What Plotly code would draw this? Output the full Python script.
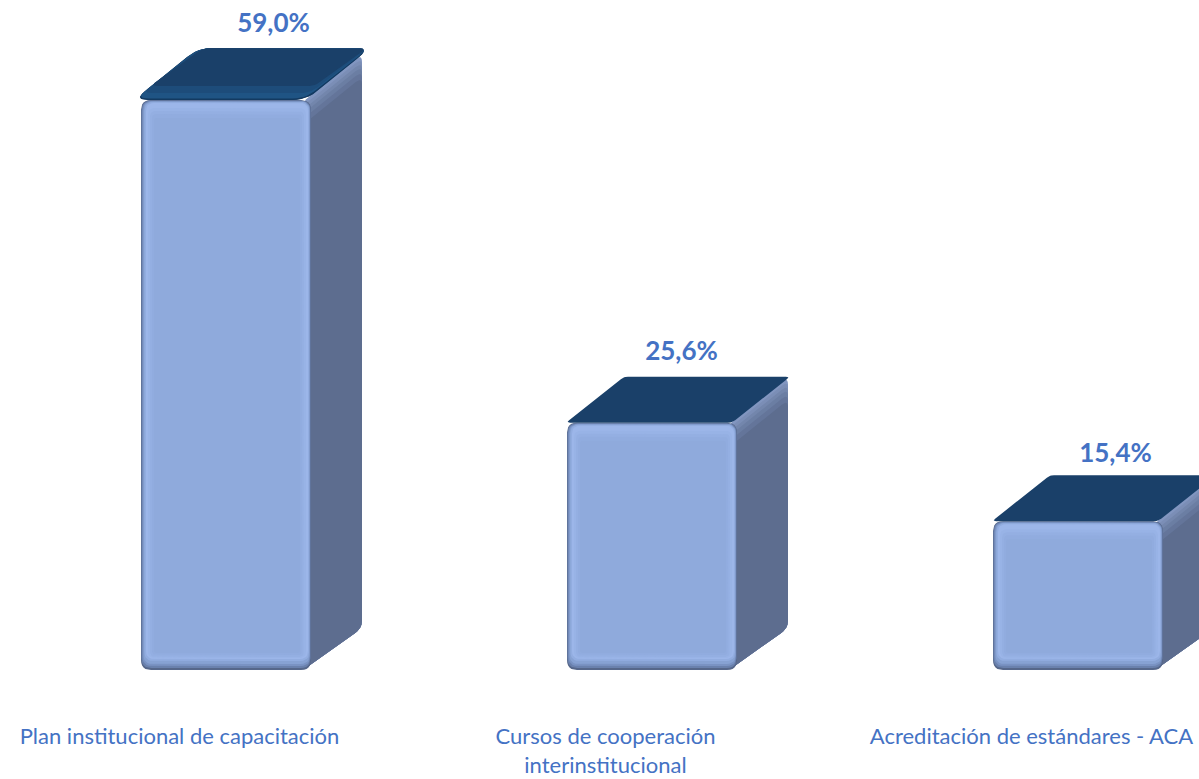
import plotly.graph_objects as go

categories = ["Plan institucional de capacitación", "Cursos de cooperación<br>interinstitucional", "Acreditación de estándares - ACA"]
values = [59.0, 25.6, 15.4]

W, H = 1199, 779
PLOT_H = 672
PX_X = 426.0
PX_Y = 9.66
TICK0 = 179.5
FLOOR_PAD = 2
BAR_W = 170
BAR_OFF = 46.5

# extrusion look, per bar
TOP_DY = [52, 46, 46]
TOP_DX = [64, 58, 58]
TOP_TIP = [7, 1, 1]
TOP_R = [14, 4, 4]
LABEL_DX = [94, 76, 84]
LABEL_DY = [75, 69, 66]


def X(px):
    return (px - TICK0) / PX_X


def Y(py):
    return (PLOT_H - FLOOR_PAD - py) / PX_Y


def rounded(pts, r, n=6):
    """Rounded polygon in pixel offsets."""
    out = []
    m = len(pts)
    for i in range(m):
        p0, p1, p2 = pts[i - 1], pts[i], pts[(i + 1) % m]
        ra = r[i] if isinstance(r, (list, tuple)) else r

        def toward(a, b, d):
            dx, dy = b[0] - a[0], b[1] - a[1]
            ln = (dx * dx + dy * dy) ** 0.5 or 1
            d = min(d, ln / 2)
            return a[0] + dx / ln * d, a[1] + dy / ln * d
        a = toward(p1, p0, ra)
        b = toward(p1, p2, ra)
        for k in range(n + 1):
            t = k / n
            out.append(((1 - t) ** 2 * a[0] + 2 * t * (1 - t) * p1[0] + t * t * b[0],
                        (1 - t) ** 2 * a[1] + 2 * t * (1 - t) * p1[1] + t * t * b[1]))
    out.append(out[0])
    return out


def add_layer(fig, polys, color):
    xs, ys = [], []
    for poly in polys:
        xs += [X(p[0]) for p in poly] + [None]
        ys += [Y(p[1]) for p in poly] + [None]
    fig.add_trace(go.Scatter(x=xs, y=ys, mode="lines", fill="toself", fillcolor=color,
                             line=dict(width=0, color=color), hoverinfo="skip", showlegend=False))


def frame(i):
    centre = TICK0 + PX_X * i + BAR_OFF
    left = centre - BAR_W / 2
    right = centre + BAR_W / 2
    base = PLOT_H - FLOOR_PAD
    top = base - values[i] * PX_Y
    return left, right, top, base


fig = go.Figure()

# right-hand side faces
SIDE_LAYERS = [(0, "#8296c0"), (4, "#7b8eb6"), (8, "#7386ac"), (12, "#6b7ea3"),
               (17, "#64759a"), (23, "#5d6d8f")]
for top_in, col in SIDE_LAYERS:
    polys = []
    for i in range(3):
        l, r, t, b = frame(i)
        polys.append(rounded([(r - 6, t + top_in), (r + 51, t - 46 + top_in),
                              (r + 51, b - 42), (r - 6, b - 1)], [1, 8, 8, 1]))
    add_layer(fig, polys, col)

# front faces, nested to give the bevel
FRONT_LAYERS = [
    (0, 0, 0, 0, "#56678a"),
    (0.5, 0.5, 0.5, 2, "#6a81ad"),
    (1.5, 1, 1, 4, "#7a93c3"),
    (2.5, 1.5, 1.5, 6, "#87a2d3"),
    (3.5, 2, 2, 9, "#92ade0"),
    (5, 3, 3, 11, "#9cb6e9"),
    (7, 8, 5, 12, "#98b3e6"),
    (9, 11, 7, 13, "#94afe2"),
    (11, 14, 9, 15, "#91acdf"),
    (13, 18, 11, 17, "#8faadc"),
]
for a, b_, c, d, col in FRONT_LAYERS:
    polys = []
    for i in range(3):
        l, r, t, b = frame(i)
        polys.append(rounded([(l + a, t + b_), (r - c, t + b_), (r - c, b - d), (l + a, b - d)],
                             max(2, 10 - max(a, b_) * 0.4)))
    add_layer(fig, polys, col)

# top faces
polys = []
for i in range(3):
    l, r, t, b = frame(i)
    dy, dx, tip, rad = TOP_DY[i], TOP_DX[i], TOP_TIP[i], TOP_R[i]
    polys.append(rounded([(l - tip, t), (l - tip + dx, t - dy),
                          (r - 5 + dx, t - dy), (r - 5, t)], rad))
add_layer(fig, polys, "#1a4069")

# lit rim on the first, more rounded top
l, r, t, b = frame(0)
add_layer(fig, [rounded([(l - 7, t), (l + 57, t - 52), (r + 59, t - 52), (r - 5, t)], 14)], "#133a61")
add_layer(fig, [rounded([(l - 5, t - 1.5), (l + 58, t - 52), (r + 58, t - 52), (r - 6, t - 1.5)], 12)], "#1f5484")
add_layer(fig, [rounded([(l + 1, t - 7), (l + 60, t - 52), (r + 57, t - 52), (r - 1, t - 7)], 10)], "#1d4c7a")
add_layer(fig, [rounded([(l + 9, t - 14), (l + 62, t - 52), (r + 56, t - 52), (r + 4, t - 14)], 8)], "#1a4069")

# value labels
fig.add_trace(go.Scatter(
    x=[X(frame(i)[0] + BAR_W / 2 - BAR_OFF + LABEL_DX[i]) for i in range(3)],
    y=[Y(frame(i)[2] - LABEL_DY[i]) for i in range(3)],
    mode="text",
    text=[f"{v:.1f}%".replace(".", ",") for v in values],
    textposition="middle center",
    textfont=dict(family="Lato", size=26, color="#4472c4", weight="bold"),
    hoverinfo="skip", showlegend=False, cliponaxis=False))

fig.update_layout(
    width=W, height=H,
    margin=dict(l=0, r=0, t=0, b=H - PLOT_H, pad=0),
    paper_bgcolor="white", plot_bgcolor="white",
    showlegend=False,
    xaxis=dict(range=[X(0), X(W)], tickmode="array", tickvals=[0, 1, 2], ticktext=categories,
               showgrid=False, zeroline=False, showline=False, ticks="outside", ticklen=45,
               tickcolor="rgba(0,0,0,0)", tickangle=0,
               tickfont=dict(family="Lato", size=22, color="#4472c4")),
    yaxis=dict(range=[Y(PLOT_H), Y(0)], visible=False),
)
fig.write_html("out.html", config=dict(displayModeBar=False),
               post_script="document.body.style.margin='0';document.body.style.overflow='hidden';")
